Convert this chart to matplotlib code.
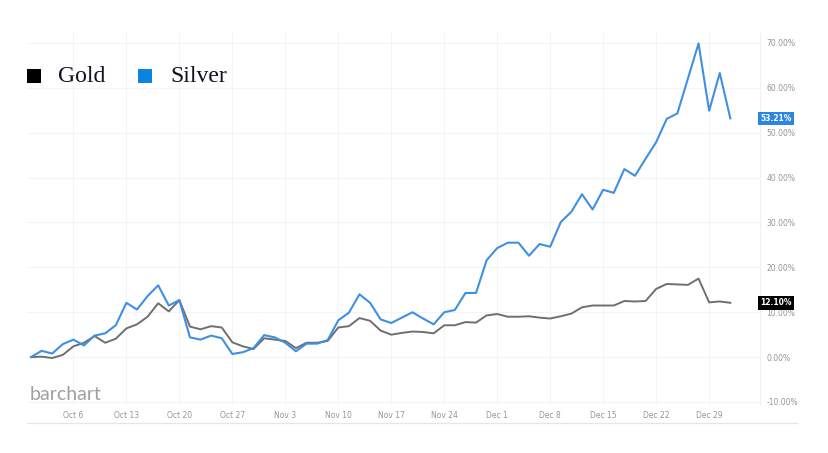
import matplotlib.pyplot as plt
import pandas as pd

# daily % change since Sep 30, one point per weekday
dates = pd.bdate_range("2025-09-30", "2025-12-31")

gold = [0.0, 0.1, -0.2, 0.5, 2.4, 3.2, 4.7, 3.2, 4.1, 6.4,
        7.3, 9.0, 12.0, 10.2, 12.7, 6.8, 6.2, 6.9, 6.6, 3.3,
        2.4, 1.8, 4.2, 3.9, 3.6, 2.0, 3.2, 3.2, 3.6, 6.6,
        6.9, 8.7, 8.1, 5.9, 5.0, 5.4, 5.7, 5.6, 5.3, 7.1,
        7.1, 7.8, 7.7, 9.3, 9.6, 9.0, 9.0, 9.1, 8.8, 8.6,
        9.1, 9.7, 11.1, 11.5, 11.5, 11.5, 12.5, 12.4, 12.5, 15.2,
        16.3, 16.2, 16.1, 17.5, 12.2, 12.4, 12.10]

silver = [0.0, 1.4, 0.8, 2.9, 3.9, 2.6, 4.8, 5.3, 7.1, 12.1,
          10.6, 13.6, 16.0, 11.5, 12.7, 4.4, 3.9, 4.8, 4.2, 0.7,
          1.1, 2.0, 4.9, 4.4, 3.2, 1.3, 3.0, 3.0, 3.8, 8.2,
          9.9, 14.0, 12.1, 8.4, 7.6, 8.8, 10.0, 8.6, 7.3, 10.0,
          10.5, 14.3, 14.3, 21.6, 24.3, 25.5, 25.5, 22.6, 25.2, 24.6,
          30.1, 32.4, 36.3, 32.9, 37.3, 36.6, 41.9, 40.4, 44.2, 47.9,
          53.1, 54.3, 62.1, 69.9, 54.9, 63.3, 53.21]

tick_dates = ["2025-10-06", "2025-10-13", "2025-10-20", "2025-10-27",
              "2025-11-03", "2025-11-10", "2025-11-17", "2025-11-24",
              "2025-12-01", "2025-12-08", "2025-12-15", "2025-12-22",
              "2025-12-29"]
tick_labels = ["Oct 6", "Oct 13", "Oct 20", "Oct 27", "Nov 3", "Nov 10",
               "Nov 17", "Nov 24", "Dec 1", "Dec 8", "Dec 15", "Dec 22",
               "Dec 29"]
y_ticks = [-10, 0, 10, 20, 30, 40, 50, 60, 70]

gold_color = "#6f6f6f"
silver_color = "#3f90e2"

fig = plt.figure(figsize=(8.29, 4.53), dpi=100)
ax = fig.add_axes([27 / 829, 48 / 453, 733 / 829, 373 / 453])

x = list(range(len(dates)))
ax.plot(x, gold, color=gold_color, lw=1.4)
ax.plot(x, silver, color=silver_color, lw=1.5)

ax.set_xlim(-0.38, 68.8)
ax.set_ylim(-10.67, 72.45)

tick_pos = [dates.get_loc(pd.Timestamp(d)) for d in tick_dates]
ax.set_xticks(tick_pos)
ax.set_xticklabels(tick_labels)
ax.set_yticks(y_ticks)
ax.set_yticklabels([f"{v:.2f}%" for v in y_ticks])
ax.yaxis.tick_right()
ax.tick_params(axis="x", length=0, pad=4.5, labelsize=5.5, labelcolor="#959595")
ax.tick_params(axis="y", length=0, pad=4.5, labelsize=5.5, labelcolor="#959595")
for lbl in ax.get_yticklabels():
    lbl.set_horizontalalignment("left")

ax.grid(True, color="#f2f4f6", lw=0.8)
ax.set_axisbelow(True)
for side in ["left", "top", "bottom"]:
    ax.spines[side].set_visible(False)
ax.spines["right"].set_color("#f0f0f0")
ax.spines["right"].set_linewidth(0.8)

# last value tags
for val, col in [(silver[-1], "#2a86e0"), (gold[-1], "#000000")]:
    ax.text(1.0, val, f"{val:.2f}%", transform=ax.get_yaxis_transform(),
            ha="left", va="center", fontsize=5.5, fontweight="bold", color="white",
            bbox=dict(boxstyle="square,pad=0.3", fc=col, ec="none"), clip_on=False)

# bottom rule
fig.add_artist(plt.Line2D([27 / 829, 797 / 829], [30 / 453, 30 / 453],
                          color="#e6e6e6", lw=0.9))

# watermark
fig.text(30 / 829, 50 / 453, "barchart", fontsize=14, color="#a0a0a0",
         family="Lato", ha="left", va="bottom")

# legend
for lx, tx, col, name in [(27, 58, "#000000", "Gold"), (138, 170, "#0a84e0", "Silver")]:
    fig.patches.append(plt.Rectangle((lx / 829, (453 - 83) / 453), 14 / 829, 14 / 453,
                                     transform=fig.transFigure, fc=col, ec="none"))
    fig.text(tx / 829, (453 - 76) / 453, name, fontsize=17, family="Liberation Serif",
             color="#111122", ha="left", va="center")

fig.savefig("out.png", dpi=100, facecolor="white")
